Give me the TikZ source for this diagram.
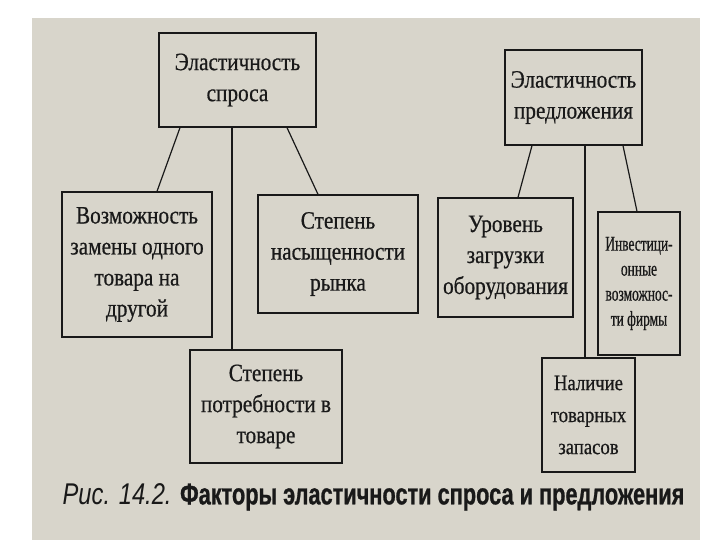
\documentclass[tikz,border=0pt]{standalone}
\usepackage{fontspec}
\setmainfont[FakeStretch=0.85,FakeBold=0.6]{Liberation Serif}
\newfontfamily\narrowfont[FakeStretch=0.64,FakeBold=0.6]{Liberation Serif}
\newfontfamily\capfont[FakeStretch=0.79]{Liberation Sans Italic}
\newfontfamily\capboldfont[FakeStretch=0.725,FakeBold=0.8]{Liberation Sans Bold}
\usepackage{xcolor}
\definecolor{paper}{RGB}{216,213,203}
\definecolor{ink}{RGB}{25,25,25}

\begin{document}
\begin{tikzpicture}[x=1pt,y=-1pt,
  box/.style={draw=ink,line width=1.3pt,align=center,inner sep=2pt,text=ink,
    font=\fontsize{25}{31}\selectfont},
  link/.style={draw=ink,line width=1.2pt}]
 	\useasboundingbox (0,0) rectangle (720,540);
 	% page
 	\fill[white] (0,0) rectangle (720,540);
 	\fill[paper] (32,18) rectangle (700,540);
 	% demand side
 	\node[box,minimum width=157pt,minimum height=94pt] (spros) at (237.5,80) {Эластичность\\спроса};
 	\node[box,minimum width=150pt,minimum height=145pt] (zamena) at (137,264.5) {Возможность\\замены одного\\товара на\\другой};
 	\node[box,minimum width=160pt,minimum height=118pt] (nasysh) at (338,254) {Степень\\насыщенности\\рынка};
 	\node[box,minimum width=152pt,minimum height=113pt] (potreb) at (266,406.5) {Степень\\потребности в\\товаре};
 	% supply side
 	\node[box,minimum width=137pt,minimum height=95pt] (predl) at (573.5,97.5) {Эластичность\\предложения};
 	\node[box,minimum width=135pt,minimum height=119pt] (zagruz) at (505.5,257.5) {Уровень\\загрузки\\оборудования};
 	\node[box,minimum width=82pt,minimum height=143pt,inner sep=0pt,font=\narrowfont\fontsize{21}{25}\selectfont] (invest) at (639,283.5) {Инвестици-\\онные\\возможнос-\\ти фирмы};
 	\node[box,minimum width=93pt,minimum height=114pt,font=\fontsize{22}{32}\selectfont] (zapas) at (588.5,415) {Наличие\\товарных\\запасов};
 	% links
 	\draw[link] ([xshift=-57.5pt]spros.south) -- ([xshift=20pt]zamena.north);
 	\draw[link] ([xshift=-5.5pt]spros.south) -- ([xshift=-34pt]potreb.north);
 	\draw[link] ([xshift=49.5pt]spros.south) -- ([xshift=-20pt]nasysh.north);
 	\draw[link] ([xshift=-41.5pt]predl.south) -- ([xshift=12.5pt]zagruz.north);
 	\draw[link] ([xshift=11.5pt]predl.south) -- ([xshift=-3.5pt]zapas.north);
 	\draw[link] ([xshift=49.5pt]predl.south) -- ([xshift=-2pt]invest.north);
 	% caption
 	\node[text=ink,inner sep=0pt] (caption) at (373.5,497) {\fontsize{30}{32}\selectfont{\capfont Рис. 14.2.} {\capboldfont Факторы эластичности спроса и предложения}};
\end{tikzpicture}
\end{document}
